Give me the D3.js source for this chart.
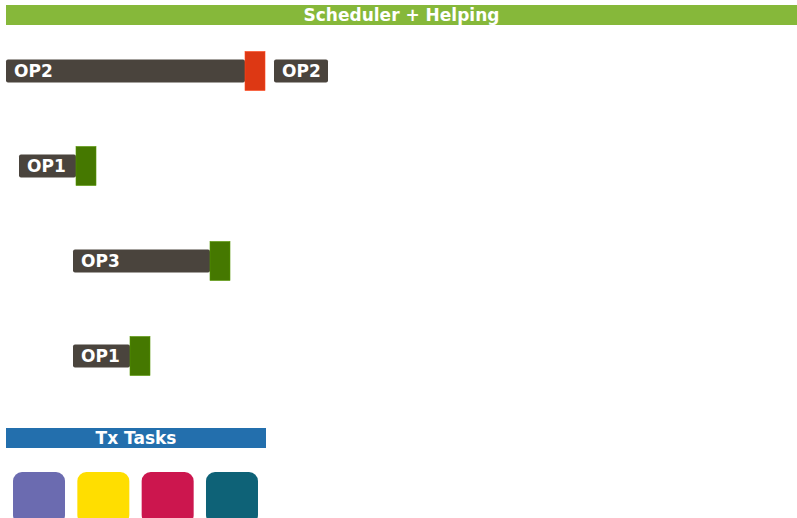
<!DOCTYPE html>
<html>
<head>
<meta charset="utf-8">
<script src="https://cdn.jsdelivr.net/npm/d3@7/dist/d3.min.js"></script>
<style>
  body { margin: 0; background: #fff; }
  svg { display: block; }
  text { font-family: 'DejaVu Sans', sans-serif; font-weight: bold; font-size: 17px; fill: #fff; }
</style>
</head>
<body>
<div id="chart"></div>
<script>
// scheduler rows: op name, queued start/end (time units), run status
const ops = ['OP2', 'OP1', 'OP3', 'OP1']
const waitStart = [0, 13, 67, 67]
const waitEnd = [239, 70, 204, 124]
const runStatus = ['failed', 'done', 'done', 'done']
const runLength = 20
// op handed on after the run (only first row)
const nextOp = ['OP2', null, null, null]
const nextOpLength = 54

const tasks = ['T1', 'T2', 'T3', 'T4']

const width = 797
const height = 518

const x = d3.scaleLinear().domain([0, 791]).range([6, 797])
const y = d3.scalePoint().domain(d3.range(ops.length)).range([71, 356])

const statusColor = d3.scaleOrdinal()
    .domain(['failed', 'done'])
    .range(['#dd3814', '#457800'])
const taskColor = d3.scaleOrdinal()
    .domain(tasks)
    .range(['#6b6bb0', '#ffde00', '#cc164e', '#0e6277'])

const svg = d3.select('#chart').append('svg')
    .attr('width', width)
    .attr('height', height)

// header banner
svg.append('rect')
    .attr('x', 6).attr('y', 5)
    .attr('width', width - 6).attr('height', 20)
    .attr('fill', '#86b83a')
svg.append('text')
    .attr('x', (6 + width) / 2).attr('y', 15)
    .attr('dy', '0.36em')
    .attr('text-anchor', 'middle')
    .text('Scheduler + Helping')

const rows = svg.selectAll('.row')
    .data(ops.map((op, i) => ({
        op, i,
        start: waitStart[i],
        end: waitEnd[i],
        status: runStatus[i],
        next: nextOp[i]
    })))
    .enter().append('g')
    .attr('class', 'row')
    .attr('transform', d => `translate(0,${y(d.i)})`)

rows.append('rect')
    .attr('x', d => x(d.start))
    .attr('y', -11.5)
    .attr('width', d => x(d.end) - x(d.start))
    .attr('height', 23)
    .attr('rx', 2)
    .attr('fill', '#4a443d')

rows.append('text')
    .attr('x', d => x(d.start) + 8)
    .attr('dy', '0.36em')
    .text(d => d.op)

rows.append('rect')
    .attr('x', d => x(d.end))
    .attr('y', -19.5)
    .attr('width', x(runLength) - x(0))
    .attr('height', 39)
    .attr('fill', d => statusColor(d.status))
    .attr('stroke', d => d3.color(statusColor(d.status)).brighter(0.6))
    .attr('stroke-width', 0.6)

const nx = rows.filter(d => d.next)
nx.append('rect')
    .attr('x', d => x(d.end + runLength + 9))
    .attr('y', -11.5)
    .attr('width', x(nextOpLength) - x(0))
    .attr('height', 23)
    .attr('rx', 2)
    .attr('fill', '#4a443d')
nx.append('text')
    .attr('x', d => x(d.end + runLength + 9) + 8)
    .attr('dy', '0.36em')
    .text(d => d.next)

// tx tasks banner
svg.append('rect')
    .attr('x', 6).attr('y', 428)
    .attr('width', 260).attr('height', 20)
    .attr('fill', '#236fad')
svg.append('text')
    .attr('x', 136).attr('y', 438)
    .attr('dy', '0.36em')
    .attr('text-anchor', 'middle')
    .text('Tx Tasks')

const tx = d3.scaleBand().domain(tasks).range([6, 265]).paddingInner(0.1917).paddingOuter(0.109)

svg.selectAll('.task')
    .data(tasks)
    .enter().append('rect')
    .attr('class', 'task')
    .attr('x', d => tx(d))
    .attr('y', 472)
    .attr('width', tx.bandwidth())
    .attr('height', 52)
    .attr('rx', 9)
    .attr('fill', taskColor)
</script>
</body>
</html>
